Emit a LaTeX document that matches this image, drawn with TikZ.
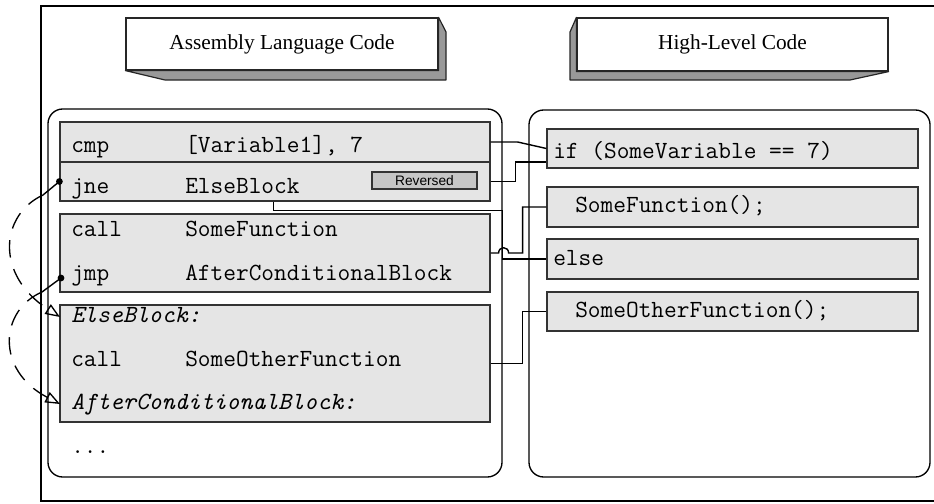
\documentclass[tikz,border=0pt]{standalone}
\usepackage{fontspec}
\setmainfont{Liberation Serif}
\newfontfamily\tagfont{Liberation Sans}
\usetikzlibrary{arrows.meta,fit,calc}

\tikzset{
	codebox/.style={draw=black!80, fill=gray!20, line width=0.9pt, inner sep=0pt},
	codeline/.style={anchor=base west, inner sep=0pt, font=\ttfamily\fontsize{18.5}{20}\selectfont},
	tagbox/.style={draw=black!80, fill=gray!45, line width=0.8pt, inner sep=0pt},
	tagtext/.style={inner sep=0pt, font=\tagfont\fontsize{10.3}{12}\selectfont},
	titlebox/.style={draw=black!85, fill=white, line width=0.9pt, inner sep=0pt},
	titletext/.style={inner sep=0pt, font=\fontsize{16}{18}\selectfont},
	bevel/.style={draw=black!85, fill=black!40, line width=0.9pt, line join=round},
	panel/.style={draw, rounded corners=11pt, line width=1pt, inner sep=0pt},
	link/.style={draw, line width=1.05pt},
	jumparc/.style={line width=1pt, dash pattern=on 13pt off 9pt, -{Triangle[open, length=11pt, width=8.5pt, line width=1pt]}},
}

\begin{document}
\begin{tikzpicture}[x=0.75pt, y=-0.75pt]
	\useasboundingbox (0,0) rectangle (934,503);
	\draw[line width=1pt] (41,6) rectangle (945,501);

	\node[titlebox, fit={(126,18) (438,70)}] (asmtitle) {};
	\path[bevel] (asmtitle.south west) -- (165,80) -- (446,80) -- (446,32)
		-- (asmtitle.north east) -- (asmtitle.south east) -- cycle;
	\node[titletext] (asmtitletext) at (asmtitle.center) {Assembly Language Code};
	\node[titlebox, fit={(577,18) (888,71)}] (hltitle) {};
	\path[bevel] (hltitle.north west) -- (570,32) -- (570,80) -- (850,80)
		-- (hltitle.south east) -- (hltitle.south west) -- cycle;
	\node[titletext] (hltitletext) at (hltitle.center) {High-Level Code};

	\node[panel, fit={(48,109) (502,477)}] (asmpanel) {};
	\node[panel, fit={(529,110) (930,477)}] (hlpanel) {};

	\node[codebox, fit={(60,122) (490,162)}] (cmprow) {};
	\node[codebox, fit={(60,162) (490,201)}] (jnerow) {};
	\node[codebox, fit={(60,214) (490,292)}] (callblock) {};
	\node[codebox, fit={(60,305) (490,422)}] (elseblock) {};
	\node[tagbox, fit={(372,172) (477,189)}] (revtag) {};
	\node[tagtext] (revtagtext) at (revtag.center) {Reversed};

	\node[codeline] (cmpop) at (71,152) {cmp};
	\node[codeline] (cmparg) at (185,152) {[Variable1], 7};
	\node[codeline] (jneop) at (71,193) {jne};
	\node[codeline] (jnearg) at (185,193) {ElseBlock};
	\node[codeline] (callop) at (71,236) {call};
	\node[codeline] (callarg) at (185,236) {SomeFunction};
	\node[codeline] (jmpop) at (71,280) {jmp};
	\node[codeline] (jmparg) at (185,280) {AfterConditionalBlock};
	\node[codeline] (elselabel) at (71,322) {\itshape ElseBlock:};
	\node[codeline] (otherop) at (71,366) {call};
	\node[codeline] (otherarg) at (185,366) {SomeOtherFunction};
	\node[codeline] (afterlabel) at (71,409) {\itshape AfterConditionalBlock:};
	\node[codeline] (moredots) at (71,453) {...};

	\node[codebox, fit={(547,129) (918,168)}] (ifbox) {};
	\node[codebox, fit={(547,187) (918,227)}] (fnbox) {};
	\node[codebox, fit={(547,239) (918,279)}] (elsebox) {};
	\node[codebox, fit={(547,292) (918,331)}] (otherfnbox) {};
	\node[codeline] (iftext) at (553,158) {if (SomeVariable == 7)};
	\node[codeline] (fntext) at (575,212) {SomeFunction();};
	\node[codeline] (elsetext) at (553,265) {else};
	\node[codeline] (otherfntext) at (575,317) {SomeOtherFunction();};

	\draw[link] (cmprow.east) -- ++(27,0) -- (ifbox.west);
	\draw[link] (jnerow.east) -- ++(25,0) |- ($(ifbox.west)+(0,13.5)$);
	\draw[link] (jnerow.south west) ++(214,0) -- ++(0,9)
		-| (asmpanel.east |- elsebox.west) -- (elsebox.west);
	\draw[link] (callblock.east) -- ++(8,0) .. controls +(0,-7) and +(0,-7) .. ++(10,0)
		-- ++(14,0) |- (fnbox.west);
	\draw[link] (elseblock.east) -- ++(32,0) |- (otherfnbox.west);

	\coordinate (jnebend) at (43,195);
	\coordinate (jmpdot) at (61,278);
	\coordinate (jmpbend) at (42,292);
	\coordinate (elsetip) at (60,317);
	\coordinate (aftertip) at (60,404);
	\fill (jnerow.west) circle (3.4);
	\draw[link] (jnerow.west) -- (jnebend);
	\draw[jumparc] (jnebend) .. controls (0,215) and (-5,275) .. (elsetip);
	\fill (jmpdot) circle (3.4);
	\draw[link] (jmpdot) -- (jmpbend);
	\draw[jumparc] (jmpbend) .. controls (0,310) and (-5,370) .. (aftertip);
\end{tikzpicture}
\end{document}
